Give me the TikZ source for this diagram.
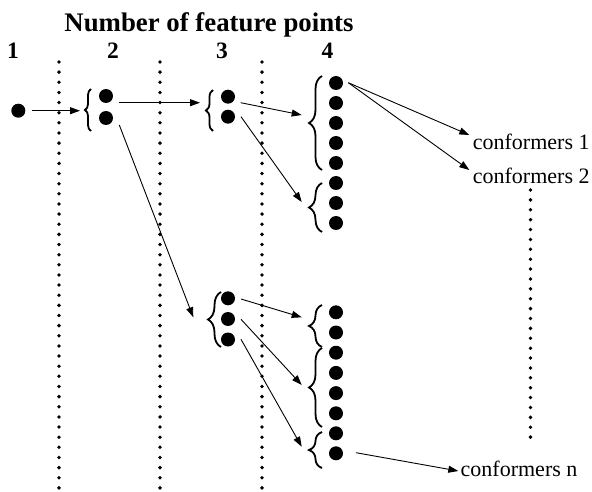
\documentclass[tikz,border=0pt]{standalone}
\usepackage{fontspec}
\setmainfont{Liberation Serif}
\usetikzlibrary{decorations.pathreplacing,arrows.meta}
\begin{document}
\begin{tikzpicture}[x=1pt,y=1pt,
  dot/.style={circle,fill=black,inner sep=0pt,minimum size=14pt},
  arr/.style={line width=0.9pt,-{Triangle[length=10pt,width=7pt]}},
  brc/.style={decorate,decoration={brace,amplitude=#1},line width=1.8pt},
  brc/.default=7pt,
  sepline/.style={line width=3.8pt,line cap=round,dash pattern=on 0pt off 10.14pt},
  lbl/.style={font=\fontsize{22}{22}\selectfont,anchor=base west,inner sep=0pt},
  num/.style={font=\fontsize{23.5}{23.5}\selectfont\bfseries,anchor=base,inner sep=0pt},
]
\useasboundingbox (0,0) rectangle (592,-492);

% title and column numbers
\node[font=\fontsize{26.8}{26.8}\selectfont\bfseries,anchor=base,inner sep=0pt] (title) at (209,-31.7) {Number of feature points};
\node[num] (n1) at (13,-59) {1};
\node[num] (n2) at (113,-59) {2};
\node[num] (n3) at (222,-59) {3};
\node[num] (n4) at (327.5,-59) {4};

% dotted separators
\coordinate (v1t) at (59,-62); \coordinate (v1b) at (59,-488);
\coordinate (v2t) at (160,-62); \coordinate (v2b) at (160,-488);
\coordinate (v3t) at (262,-62); \coordinate (v3b) at (262,-488);
\draw[sepline] (v1t) -- (v1b);
\draw[sepline] (v2t) -- (v2b);
\draw[sepline] (v3t) -- (v3b);
\coordinate (rt) at (530.5,-190); \coordinate (rb) at (530.5,-447);
\draw[line width=3.8pt,line cap=round,dash pattern=on 0pt off 9.885pt] (rt) -- (rb);

% dots
\node[dot] (d1) at (18.3,-110.7) {};
\node[dot] (g2a) at (106,-96) {};
\node[dot] (g2b) at (106,-118) {};
\node[dot] (g3a) at (228,-96.7) {};
\node[dot] (g3b) at (228,-116.7) {};
\node[dot] (g3c) at (228,-298.3) {};
\node[dot] (g3d) at (228,-319) {};
\node[dot] (g3e) at (228,-339.5) {};
\foreach \y [count=\i] in {83,103,123,143,163,183,203,223}
  \node[dot] (u\i) at (336,-\y) {};
\foreach \y [count=\i] in {312.3,332.5,352.7,372.9,393.1,413.3,433.3,453.3}
  \node[dot] (w\i) at (336,-\y) {};

% braces
\draw[brc=6pt] (91,-131) -- (91,-89);
\draw[brc=7pt] (213,-131) -- (213,-90);
\draw[brc=13pt] (221,-347) -- (221,-292);
\draw[brc=13pt] (322,-170) -- (322,-76);
\draw[brc=13pt] (322,-232) -- (322,-183);
\draw[brc=13pt] (322,-347) -- (322,-305);
\draw[brc=13pt] (322,-427) -- (322,-348);
\draw[brc=13pt] (322,-468) -- (322,-432);

% labels
\node[lbl] (c1) at (472.7,-149.3) {conformers 1};
\node[lbl] (c2) at (472.7,-183.8) {conformers 2};
\node[lbl] (cn) at (460.5,-476) {conformers n};

% arrow end points
\coordinate (s1) at (31.7,-110.7);   \coordinate (t1) at (80,-110.7);
\coordinate (s2) at (119.3,-102.7);  \coordinate (t2) at (200,-102.7);
\coordinate (s3) at (119.3,-125);    \coordinate (t3) at (193.3,-317.3);
\coordinate (s4) at (240.7,-102.7);  \coordinate (t4) at (301.7,-115);
\coordinate (s5) at (241,-116.7);    \coordinate (t5) at (301.7,-202);
\coordinate (s6) at (241,-299);      \coordinate (t6) at (301.7,-317.3);
\coordinate (s7) at (241,-319.3);    \coordinate (t7) at (301.7,-385);
\coordinate (s8) at (241,-339.3);    \coordinate (t8) at (301.7,-446.7);
\coordinate (s9) at (348.3,-82.7);   \coordinate (t9) at (469.3,-135);
\coordinate (t10) at (469.3,-170);
\coordinate (s11) at (356,-452.7);   \coordinate (t11) at (458.3,-471);

\draw[arr] (s1) -- (t1);
\draw[arr] (s2) -- (t2);
\draw[arr] (s3) -- (t3);
\draw[arr] (s4) -- (t4);
\draw[arr] (s5) -- (t5);
\draw[arr] (s6) -- (t6);
\draw[arr] (s7) -- (t7);
\draw[arr] (s8) -- (t8);
\draw[arr] (s9) -- (t9);
\draw[arr] (s9) -- (t10);
\draw[arr] (s11) -- (t11);
\end{tikzpicture}
\end{document}
